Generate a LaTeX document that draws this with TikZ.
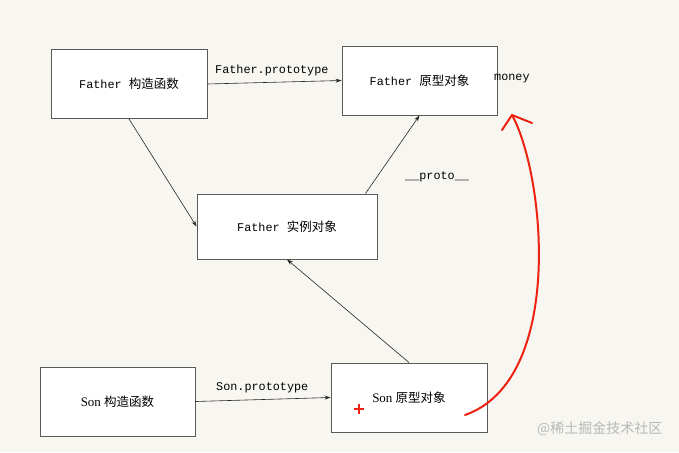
\documentclass[tikz,border=0pt]{standalone}
\usepackage{fontspec}
\setmainfont{Liberation Serif}
\setmonofont{Liberation Mono}
\newfontfamily\zhfont{Noto Sans CJK SC}
\usetikzlibrary{arrows.meta,calc}
\definecolor{paper}{HTML}{F7F6F1}
\definecolor{boxline}{HTML}{5A5A5A}
\definecolor{inkred}{HTML}{EE2211}
\newcommand{\zh}[1]{{\zhfont\fontsize{12.5}{14}\selectfont #1}}
\tikzset{
  pr/box/.style={draw=boxline, fill=white, line width=0.9pt, minimum width=156pt, minimum height=69pt, inner sep=0pt, align=center, font=\fontsize{11.8}{14}\ttfamily},
  pr/sonbox/.style={pr/box, font=\fontsize{13}{14}\rmfamily},
  pr/link/.style={draw=black!85, line width=0.6pt, -{Stealth[length=6pt,width=4pt]}},
  pr/label/.style={font=\fontsize{11.8}{14}\ttfamily, inner sep=0pt, anchor=west},
  pr/mark/.style={draw=inkred, line width=2pt, line cap=round, line join=round}
}

\begin{document}
\begin{tikzpicture}[x=1pt,y=-1pt]
  \fill[paper] (0,0) rectangle (679,452);
  \useasboundingbox (0,0) rectangle (679,452);

  % Father side
  \node[pr/box] (fctor) at (129,84) {Father \zh{构造函数}};
  \node[pr/box, minimum width=155pt] (fproto) at (419.5,80.5) {Father \zh{原型对象}};
  \node[pr/box, minimum width=180pt, minimum height=65pt] (finst) at (287,226.5) {Father \zh{实例对象}};

  % Son side
  \node[pr/sonbox, minimum width=155pt] (sctor) at (117.5,401.5) {Son \zh{构造函数}};
  \node[pr/sonbox] (sproto) at (409,397.5) {Son \zh{原型对象}};

  \draw[pr/link] (fctor.east) -- (fproto.west);
  \draw[pr/link] (fctor.south) -- (finst.west);
  \draw[pr/link] ([xshift=-12pt]finst.north east) -- (fproto.south);
  \draw[pr/link] (sproto.north) -- (finst.south);
  \draw[pr/link] (sctor.east) -- (sproto.west);

  % edge texts
  \node[pr/label] (fptlbl) at (215,70) {Father.prototype};
  \node[pr/label] (protolbl) at (405,177) {\_\_proto\_\_};
  \node[pr/label] (sptlbl) at (216,388) {Son.prototype};
  \node[pr/label] (money) at (494,79) {money};

  % red hand marks
  \coordinate (redfrom) at (465,415);
  \coordinate (redto) at (512,115);
  \draw[pr/mark] (redfrom) .. controls (565,380) and (545,175) .. (redto);
  \draw[pr/mark] (redto) ++(-10,15) -- (redto) -- ++(20,8);
  \coordinate (plus) at (359,409);
  \draw[pr/mark, line width=1.8pt, line cap=butt] (plus) ++(-5,0) -- ++(10,0) (plus) ++(0,-5) -- ++(0,10);

  \node[font=\zhfont\fontsize{14}{14}\selectfont, text=black!28, anchor=west, inner sep=0pt] (wmark) at (537,429) {@稀土掘金技术社区};
\end{tikzpicture}
\end{document}
